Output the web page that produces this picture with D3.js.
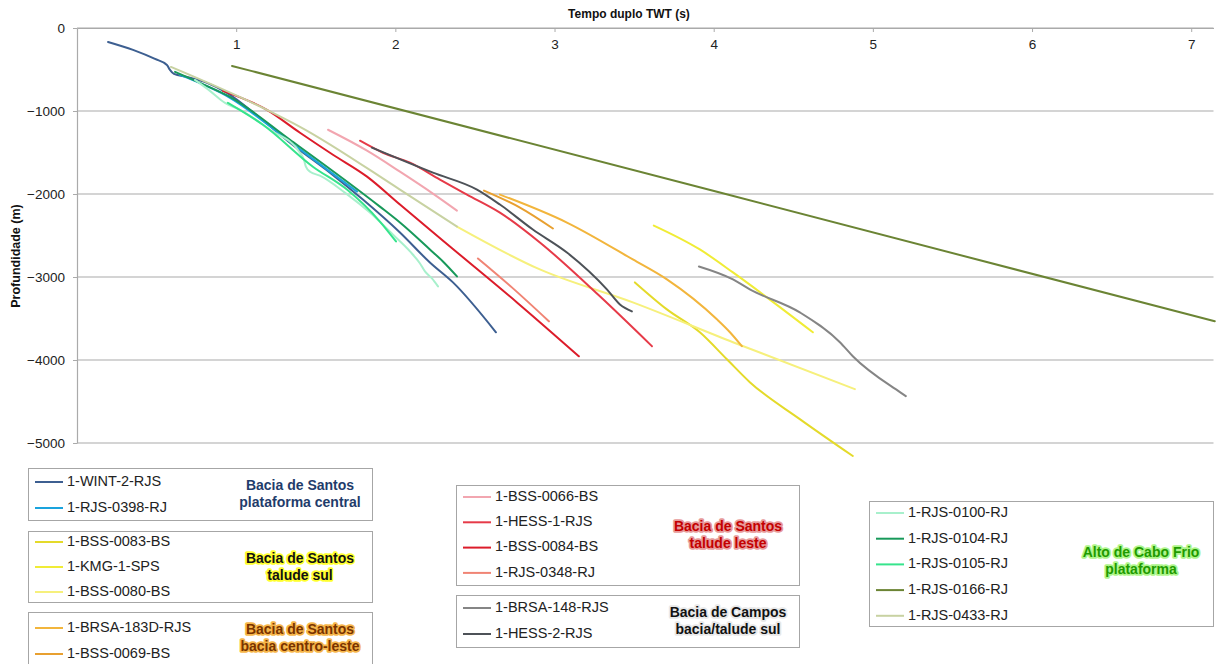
<!DOCTYPE html>
<html>
<head>
<meta charset="utf-8">
<script src="https://cdn.jsdelivr.net/npm/d3@7"></script>
<style>
  html, body { margin: 0; padding: 0; background: #fff; }
  svg { display: block; font-family: "Liberation Sans", Arial, sans-serif; }
</style>
</head>
<body>
<svg id="chart" width="1221" height="664"></svg>
<script>
// ---------------- DATA ----------------
const timeTicks = [1, 2, 3, 4, 5, 6, 7];
const depthTicks = [0, -1000, -2000, -3000, -4000, -5000];
const xTitle = "Tempo duplo TWT (s)";
const yTitle = "Profundidade (m)";

// [TWT (s), depth (m)]
const wint2 = [[0.195,-168],[0.352,-264],[0.490,-373],[0.565,-445],[0.584,-505],[0.609,-553],[0.691,-589],[0.817,-661],[0.942,-781],[1.149,-1082],[1.338,-1382],[1.589,-1743],[1.796,-2067],[2.029,-2464],[2.217,-2825],[2.362,-3065],[2.632,-3666]];
const rjs0398 = [[0.647,-565],[0.961,-841],[1.338,-1370],[1.589,-1731],[1.759,-1971]];
const bss0083 = [[3.505,-3065],[3.706,-3390],[3.913,-3666],[4.083,-3991],[4.227,-4267],[4.541,-4712],[4.874,-5157]];
const kmg1 = [[3.624,-2380],[3.913,-2668],[4.121,-2945],[4.334,-3245],[4.623,-3666]];
const bss0080 = [[2.387,-2392],[2.908,-2909],[3.492,-3306],[4.121,-3786],[4.887,-4351]];
const brsa183d = [[2.657,-2007],[3.078,-2344],[3.492,-2789],[3.706,-3029],[4.020,-3510],[4.102,-3666],[4.177,-3834]];
const bss0069 = [[2.557,-1959],[2.783,-2164],[2.990,-2416]];
const bss0066 = [[1.577,-1226],[1.822,-1478],[2.029,-1731],[2.236,-1995],[2.387,-2200]];
const hess1 = [[1.778,-1358],[1.922,-1503],[2.092,-1623],[2.280,-1827],[2.450,-2007],[2.657,-2224],[2.908,-2584],[3.285,-3233],[3.612,-3834]];
const bss0084 = [[0.917,-757],[1.193,-986],[1.401,-1262],[1.608,-1527],[1.822,-1791],[2.029,-2127],[2.343,-2632],[2.764,-3306],[3.153,-3955]];
const rjs0348 = [[2.519,-2777],[2.732,-3125],[2.965,-3534]];
const brsa148 = [[3.907,-2873],[4.121,-3029],[4.227,-3149],[4.541,-3426],[4.793,-3786],[4.874,-3955],[5.170,-4387],[5.207,-4435]];
const hess2 = [[1.853,-1442],[2.236,-1743],[2.513,-1947],[2.657,-2127],[2.864,-2428],[3.078,-2705],[3.329,-3149],[3.411,-3330],[3.486,-3414]];
const rjs0100 = [[0.741,-625],[0.835,-757],[0.930,-902],[1.024,-986],[1.212,-1226],[1.401,-1503],[1.426,-1587],[1.438,-1671],[1.464,-1731],[1.526,-1779],[1.683,-1983],[1.840,-2224],[1.997,-2512],[2.092,-2692],[2.155,-2837],[2.186,-2933],[2.230,-3017],[2.268,-3113]];
const rjs0104 = [[0.616,-529],[0.773,-661],[0.961,-829],[1.338,-1346],[1.903,-2152],[2.029,-2344],[2.217,-2668],[2.299,-2813],[2.387,-2993]];
const rjs0105 = [[0.948,-902],[1.168,-1166],[1.482,-1671],[1.696,-1947],[1.903,-2332],[2.004,-2572]];
const rjs0166 = [[0.974,-457],[4.039,-1983],[7.148,-3534]];
const rjs0433 = [[0.590,-469],[1.193,-986],[1.401,-1190],[2.029,-1947],[2.387,-2392]];

const wellNames = ["1-WINT-2-RJS","1-RJS-0398-RJ","1-BSS-0083-BS","1-KMG-1-SPS","1-BSS-0080-BS","1-BRSA-183D-RJS","1-BSS-0069-BS","1-BSS-0066-BS","1-HESS-1-RJS","1-BSS-0084-BS","1-RJS-0348-RJ","1-BRSA-148-RJS","1-HESS-2-RJS","1-RJS-0100-RJ","1-RJS-0104-RJ","1-RJS-0105-RJ","1-RJS-0166-RJ","1-RJS-0433-RJ"];
const wellValues = [wint2, rjs0398, bss0083, kmg1, bss0080, brsa183d, bss0069, bss0066, hess1, bss0084, rjs0348, brsa148, hess2, rjs0100, rjs0104, rjs0105, rjs0166, rjs0433];

// legend groups: indices into wellNames + label lines
const groupMembers = [[0,1],[2,3,4],[5,6],[7,8,9,10],[11,12],[13,14,15,16,17]];
const groupLabels = [
  ["Bacia de Santos","plataforma central"],
  ["Bacia de Santos","talude sul"],
  ["Bacia de Santos","bacia centro-leste"],
  ["Bacia de Santos","talude leste"],
  ["Bacia de Campos","bacia/talude sul"],
  ["Alto de Cabo Frio","plataforma"]
];

// ---------------- STYLE ----------------
const colors = ["#3d5f91","#1aa3dd","#e4da2a","#f0ec36","#f6f07c","#f2b53c","#e8a030","#f2a6b0","#e63a48","#dc1c2a","#f08474","#858585","#4d5258","#a8f0cc","#18995a","#36e48c","#6b8434","#c8d2a2"];
const drawOrder = [0,1,2,3,4,5,6,7,8,9,10,11,12,17,14,13,15,16];

const plot = { left: 77, right: 1213.5, top: 28, bottom: 443 };

const svg = d3.select("#chart");
const x = d3.scaleLinear().domain([0, 7.14]).range([plot.left, plot.right]);
const y = d3.scaleLinear().domain([-5000, 0]).range([plot.bottom, plot.top]);

// gridlines
svg.append("g")
  .selectAll("line").data(depthTicks).join("line")
  .attr("x1", plot.left).attr("x2", plot.right)
  .attr("y1", d => y(d)).attr("y2", d => y(d))
  .attr("stroke", "#aaaaaa").attr("stroke-width", 1.2);

// x axis (top, labels below)
const gx = svg.append("g").attr("transform", `translate(0,${y(0)})`)
  .call(d3.axisBottom(x).tickValues(timeTicks).tickFormat(d3.format("d")).tickSize(4).tickSizeOuter(0).tickPadding(7));
gx.select(".domain").attr("stroke", "#aaaaaa").attr("stroke-width", 1.2);
gx.selectAll(".tick line").attr("stroke", "#aaaaaa");
gx.selectAll("text").attr("font-size", "13.5px").attr("fill", "#222").attr("font-family", "Liberation Sans, Arial, sans-serif");

// y axis
const gy = svg.append("g").attr("transform", `translate(${plot.left},0)`)
  .call(d3.axisLeft(y).tickValues(depthTicks).tickFormat(d3.format("d")).tickSize(4).tickSizeOuter(0).tickPadding(8));
gy.select(".domain").attr("stroke", "#aaaaaa").attr("stroke-width", 1.2);
gy.selectAll(".tick line").attr("stroke", "#aaaaaa");
gy.selectAll("text").attr("font-size", "13.5px").attr("fill", "#222").attr("font-family", "Liberation Sans, Arial, sans-serif");

// titles
svg.append("text").attr("x", 629).attr("y", 15).attr("text-anchor", "middle")
  .attr("dominant-baseline", "middle").attr("font-weight", "bold").attr("font-size", "12px")
  .attr("fill", "#111").text(xTitle);
svg.append("text").attr("transform", "translate(17,256) rotate(-90)").attr("text-anchor", "middle")
  .attr("dominant-baseline", "middle").attr("font-weight", "bold").attr("font-size", "12.5px")
  .attr("fill", "#111").text(yTitle);

// lines
const line = d3.line().x(d => x(d[0])).y(d => y(d[1])).curve(d3.curveMonotoneX);
svg.append("g").selectAll("path").data(drawOrder).join("path")
  .attr("d", i => line(wellValues[i]))
  .attr("fill", "none")
  .attr("stroke", i => colors[i])
  .attr("stroke-width", 2)
  .attr("stroke-linejoin", "round").attr("stroke-linecap", "round");

// legend boxes
const boxes = [
  { x: 28,  y: 468, w: 344, h: 52,  first: 14, gap: 26,  lx: 300,  ly: 486, textFill: "#1f3c6b", glow: "none" },
  { x: 28,  y: 531, w: 344, h: 71,  first: 11, gap: 25,  lx: 300,  ly: 559, textFill: "#111111", glow: "#ffff30" },
  { x: 28,  y: 612, w: 344, h: 70,  first: 16, gap: 26,  lx: 300,  ly: 630, textFill: "#7a3300", glow: "#f6b64a" },
  { x: 456, y: 485, w: 343, h: 100, first: 12, gap: 25.3,lx: 728,  ly: 527, textFill: "#c40000", glow: "#e79a9a" },
  { x: 456, y: 595, w: 343, h: 52,  first: 13, gap: 26,  lx: 728,  ly: 613, textFill: "#111111", glow: "#e8e8e8" },
  { x: 869, y: 501, w: 344, h: 125, first: 12, gap: 25.7,lx: 1141, ly: 553, textFill: "#1f9a00", glow: "#aef58a" }
];

boxes.forEach((b, gi) => {
  const g = svg.append("g");
  g.append("rect").attr("x", b.x + 0.5).attr("y", b.y + 0.5).attr("width", b.w).attr("height", b.h)
    .attr("fill", "#fff").attr("stroke", "#a6a6a6").attr("stroke-width", 1);
  groupMembers[gi].forEach((si, k) => {
    const yy = b.y + b.first + k * b.gap;
    g.append("line").attr("x1", b.x + 7).attr("x2", b.x + 35).attr("y1", yy).attr("y2", yy)
      .attr("stroke", colors[si]).attr("stroke-width", 2);
    g.append("text").attr("x", b.x + 39).attr("y", yy).attr("dominant-baseline", "middle")
      .attr("font-size", "14.5px").attr("fill", "#222").text(wellNames[si]);
  });
  groupLabels[gi].forEach((t, k) => {
    const tx = g.append("text").attr("x", b.lx).attr("y", b.ly + k * 17).attr("text-anchor", "middle")
      .attr("dominant-baseline", "middle").attr("font-weight", "bold").attr("font-size", "14px")
      .attr("fill", b.textFill).text(t);
    if (b.glow !== "none") {
      tx.attr("stroke", b.glow).attr("stroke-width", 3.5).attr("stroke-linejoin", "round")
        .attr("paint-order", "stroke");
    }
  });
});
</script>
</body>
</html>
